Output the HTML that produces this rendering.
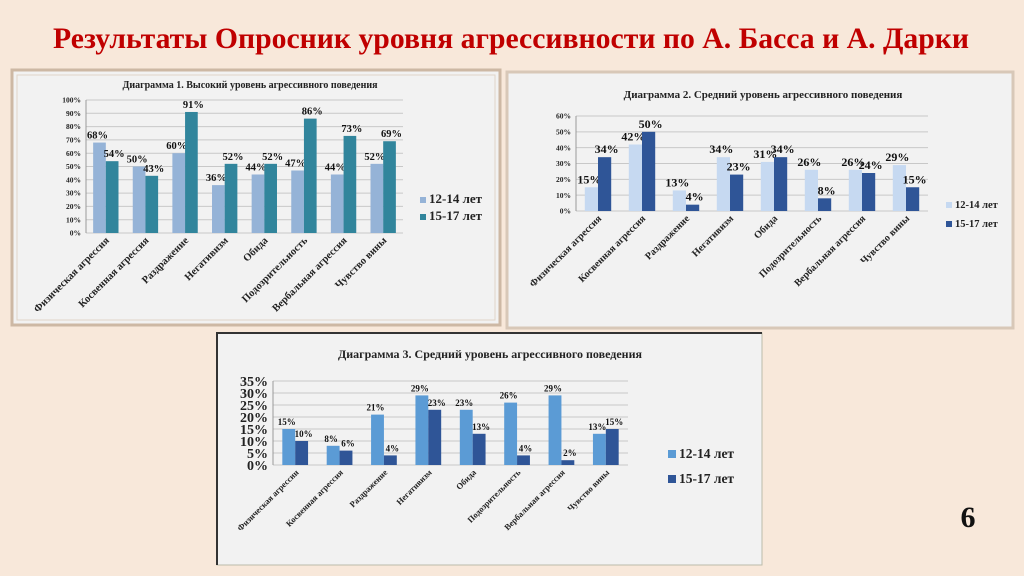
<!DOCTYPE html>
<html><head><meta charset="utf-8">
<style>
html,body{margin:0;padding:0;background:#f8e8da;}
svg{display:block;font-family:"Liberation Serif","Noto Serif CJK SC",serif;}
</style></head>
<body>
<svg id="s" width="1024" height="576" viewBox="0 0 1024 576" xmlns="http://www.w3.org/2000/svg">
<rect width="1024" height="576" fill="#f8e8da"/>
<text x="511" y="48" text-anchor="middle" font-family="Liberation Serif, serif" font-weight="bold" font-size="30" fill="#c00000" textLength="916" lengthAdjust="spacingAndGlyphs">Результаты Опросник уровня агрессивности по А. Басса и А. Дарки</text>
<text x="968" y="527" text-anchor="middle" font-weight="bold" font-size="30" fill="#111">6</text>
<rect x="12" y="70" width="488" height="255" fill="#f2f2f2" stroke="#cdb8a4" stroke-width="3"/>
<rect x="17" y="75" width="478" height="245" fill="none" stroke="#e0d4c8" stroke-width="1"/>
<rect x="507" y="72" width="506" height="256" fill="#f2f2f2" stroke="#d8c8b8" stroke-width="3"/>
<rect x="217" y="333" width="545" height="232" fill="#f2f2f2" stroke="#bba" stroke-width="1"/>
<path d="M217 565 V333 H762" fill="none" stroke="#333" stroke-width="2"/>
<g id="charts"></g>
</svg>
<script>
const categories = ["Физическая агрессия","Косвенная агрессия","Раздражение","Негативизм","Обида","Подозрительность","Вербальная агрессия","Чувство вины"];
const categories3 = ["Физическая агрессии","Косвенная агрессия","Раздражение","Негативизм","Обида","Подозрительность","Вербальная агрессия","Чувство вины"];
const seriesNames = ["12-14 лет","15-17 лет"];
const c1Young = [68,50,60,36,44,47,44,52];
const c1Old = [54,43,91,52,52,86,73,69];
const c1Ticks = [0,10,20,30,40,50,60,70,80,90,100];
const c2Young = [15,42,13,34,31,26,26,29];
const c2Old = [34,50,4,23,34,8,24,15];
const c2Ticks = [0,10,20,30,40,50,60];
const c3Young = [15,8,21,29,23,26,29,13];
const c3Old = [10,6,4,23,13,4,2,15];
const c3Ticks = [0,5,10,15,20,25,30,35];

const NS="http://www.w3.org/2000/svg";
const G=document.getElementById('charts');
function el(t,a,p){const e=document.createElementNS(NS,t);for(const k in a)e.setAttribute(k,a[k]);(p||G).appendChild(e);return e;}

function chart(o){
  const g=el('g',{});
  
  
  const max=o.ticks[o.ticks.length-1];
  const y=v=>o.y0-(v/max)*(o.y0-o.y1);
  const n=o.cats.length, bw=(o.x1-o.x0)/n;
  const x=i=>o.x0+bw*i;
  const t=el('text',{x:o.tx,y:o.ty,'text-anchor':'middle','font-size':o.tfs,'font-weight':'bold',fill:'#222'},g);
  t.textContent=o.title;
  
  
  o.ticks.forEach(v=>{
    el('line',{x1:o.x0,x2:o.x1,y1:y(v),y2:y(v),stroke:'#c8c8c8','stroke-width':1},g);
    const tl=el('text',{x:o.x0-5,y:y(v)+o.yfs*0.35,'text-anchor':'end','font-size':o.yfs,'font-weight':'bold',fill:'#222'},g);
    tl.textContent=v+'%';
    
    
  });
  el('line',{x1:o.x0,x2:o.x0,y1:o.y1,y2:o.y0,stroke:'#999'},g);
  const bar=bw*o.bf;
  [o.a,o.b].forEach((arr,s)=>{
    arr.forEach((v,i)=>{
      const bx=x(i)+bw/2-bar+s*bar;
      const r=el('rect',{x:bx,y:y(v),width:bar,height:o.y0-y(v),fill:o.col[s]},g);
      
      
      const l=el('text',{x:bx+bar/2+(s?o.dx:-o.dx),y:y(v)-o.lo,'text-anchor':'middle','font-size':o.lfs,'font-weight':'bold',fill:'#111'},g);
      l.textContent=v+'%';
      
      
    });
  });
  o.cats.forEach((c,i)=>{
    const cx=x(i)+bw/2+4, cy=o.y0+8;
    const l=el('text',{x:cx,y:cy,'text-anchor':'end','font-size':o.cfs,'font-weight':'bold',fill:'#222',transform:`rotate(-45 ${cx} ${cy})`},g);
    l.textContent=c;
    
    
  });
  seriesNames.forEach((sn,s)=>{
    const ly=o.ly+s*o.lg;
    el('rect',{x:o.lx,y:ly-o.lsz,width:o.lsz,height:o.lsz,fill:o.col[s]},g);
    const lt=el('text',{x:o.lx+o.lsz+3,y:ly,'font-size':o.lfs2,'font-weight':'bold',fill:'#222'},g);
    lt.textContent=sn;
    
    
  });
}
chart({name:'chart1',title:'Диаграмма 1. Высокий уровень агрессивного поведения',tx:250,ty:88,tfs:10,
  x0:86,x1:403,y0:233,y1:100,ticks:c1Ticks,cats:categories,a:c1Young,b:c1Old,col:['#95b3d7','#31859c'],
  bf:0.32,yfs:7.5,lfs:10.5,cfs:10.5,dx:2,lo:4,lx:420,ly:203,lg:17,lsz:6,lfs2:13});
chart({name:'chart2',title:'Диаграмма 2. Средний уровень агрессивного поведения',tx:763,ty:98,tfs:11,
  x0:576,x1:928,y0:211,y1:116,ticks:c2Ticks,cats:categories,a:c2Young,b:c2Old,col:['#c6d9f1','#2f5597'],
  bf:0.3,yfs:7.5,lfs:12,cfs:10,dx:2,lo:4,lx:946,ly:208,lg:19,lsz:6,lfs2:10.5});
chart({name:'chart3',title:'Диаграмма 3. Средний уровень агрессивного поведения',tx:490,ty:358,tfs:12,
  x0:273,x1:628,y0:465,y1:381,ticks:c3Ticks,cats:categories3,a:c3Young,b:c3Old,col:['#5b9bd5','#2f5597'],
  bf:0.29,yfs:14,lfs:9,cfs:8.5,dx:2,lo:4,lx:668,ly:458,lg:25,lsz:8,lfs2:13.5});
</script>
</body></html>
